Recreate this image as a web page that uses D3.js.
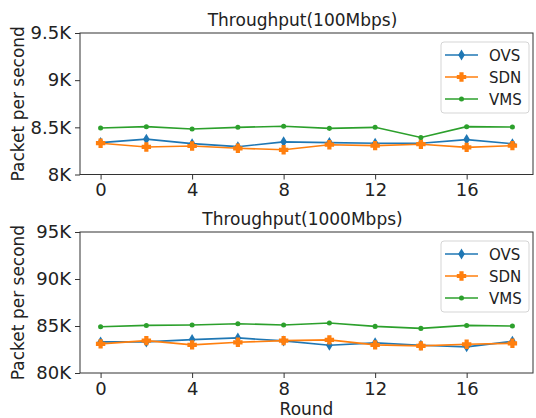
<!DOCTYPE html>
<html lang="en">
  <head>
    <meta charset="utf-8" />
    <title>Throughput</title>
    <script type="text/javascript" src="https://d3js.org/d3.v7.min.js"></script>
    <style>
      body { margin: 0; background: white; }
      text { font-family: "DejaVu Sans", sans-serif; fill: #222; }
    </style>
  </head>
  <body>
    <script type="text/javascript">
      const WIDTH = 536;
      const HEIGHT = 418;
      const LEFT = 80;
      const RIGHT = 533;

      // Data
      const rounds = [0, 2, 4, 6, 8, 10, 12, 14, 16, 18];
      const xTicks = [0, 4, 8, 12, 16];
      const seriesNames = ["OVS", "SDN", "VMS"];
      const seriesColors = ["#1f77b4", "#ff7f0e", "#2ca02c"];

      const ovs100 = [8338, 8375, 8327, 8295, 8346, 8338, 8332, 8332, 8370, 8327];
      const sdn100 = [8332, 8292, 8302, 8278, 8262, 8316, 8306, 8321, 8288, 8306];
      const vms100 = [8493, 8507, 8483, 8500, 8511, 8489, 8500, 8392, 8507, 8504];
      const yTicks100 = [8000, 8500, 9000, 9500];

      const ovs1000 = [83310, 83310, 83553, 83733, 83416, 82951, 83205, 82951, 82782, 83374];
      const sdn1000 = [83099, 83448, 82994, 83268, 83448, 83521, 82994, 82888, 83057, 83162];
      const vms1000 = [84926, 85063, 85106, 85243, 85106, 85317, 84958, 84746, 85063, 85000];
      const yTicks1000 = [80000, 85000, 90000, 95000];

      const svg = d3
        .select("body")
        .append("svg")
        .attr("width", WIDTH)
        .attr("height", HEIGHT);

      // marker shapes, matplotlib style: thin diamond, filled plus, dot
      function markerPath(kind) {
        if (kind === 0) return "M0,-5.5L3.3,0L0,5.5L-3.3,0Z";
        if (kind === 1) {
          const a = 2.1, b = 4.7;
          return `M${-a},${-b}H${a}V${-a}H${b}V${a}H${a}V${b}H${-a}V${a}H${-b}V${-a}H${-a}Z`;
        }
        return d3.symbol(d3.symbolCircle, 20)();
      }

      function drawPanel(opts) {
        const x = d3.scaleLinear().domain([-0.9, 18.9]).range([LEFT, RIGHT]);
        const y = d3.scaleLinear().domain(opts.yDomain).range([opts.bottom, opts.top]);
        const g = svg.append("g");

        // lines and markers
        opts.series.forEach((vals, si) => {
          const pts = rounds.map((r, i) => [r, vals[i]]);
          g.append("path")
            .datum(pts)
            .attr("fill", "none")
            .attr("stroke", seriesColors[si])
            .attr("stroke-width", 1.6)
            .attr("d", d3.line().x(d => x(d[0])).y(d => y(d[1])));
          g.selectAll(null)
            .data(pts)
            .enter()
            .append("path")
            .attr("d", markerPath(si))
            .attr("transform", d => `translate(${x(d[0])},${y(d[1])})`)
            .attr("fill", seriesColors[si]);
        });

        // axes
        const xAxis = g.append("g")
          .attr("transform", `translate(0,${opts.bottom})`)
          .call(d3.axisBottom(x).tickValues(xTicks).tickSize(5).tickPadding(4));
        const yAxis = g.append("g")
          .attr("transform", `translate(${LEFT},0)`)
          .call(d3.axisLeft(y).tickValues(opts.yTicks).tickSize(5).tickPadding(4)
            .tickFormat(d => d / 1000 + "K"));
        [xAxis, yAxis].forEach(a => {
          a.selectAll("text").style("font-size", "18px").attr("fill", "#222");
          a.selectAll("line").attr("stroke", "#333");
          a.select(".domain").attr("stroke", "none");
        });

        // frame
        g.append("rect")
          .attr("x", LEFT).attr("y", opts.top)
          .attr("width", RIGHT - LEFT).attr("height", opts.bottom - opts.top)
          .attr("fill", "none").attr("stroke", "#333").attr("stroke-width", 1);

        // title and y label
        g.append("text")
          .attr("x", (LEFT + RIGHT) / 2 - 4).attr("y", opts.top - 7)
          .attr("text-anchor", "middle").style("font-size", "17px")
          .text(opts.title);
        g.append("text")
          .attr("transform", `translate(24,${(opts.top + opts.bottom) / 2}) rotate(-90)`)
          .attr("text-anchor", "middle").style("font-size", "17px")
          .text("Packet per second");

        // legend
        const lg = g.append("g").attr("transform", `translate(441,${opts.top + 9})`);
        lg.append("rect")
          .attr("width", 88).attr("height", 71).attr("rx", 3)
          .attr("fill", "white").attr("fill-opacity", 0.8)
          .attr("stroke", "#d5d5d5");
        seriesNames.forEach((name, i) => {
          const yy = 13 + i * 22;
          lg.append("line")
            .attr("x1", 4).attr("x2", 37).attr("y1", yy).attr("y2", yy)
            .attr("stroke", seriesColors[i]).attr("stroke-width", 1.6);
          lg.append("path")
            .attr("d", markerPath(i))
            .attr("transform", `translate(20.5,${yy})`)
            .attr("fill", seriesColors[i]);
          lg.append("text")
            .attr("x", 48).attr("y", yy + 5.5)
            .style("font-size", "15px")
            .text(name);
        });
        return g;
      }

      drawPanel({
        top: 33, bottom: 174.5,
        yDomain: [8000, 9500], yTicks: yTicks100,
        series: [ovs100, sdn100, vms100],
        title: "Throughput(100Mbps)"
      });

      drawPanel({
        top: 232, bottom: 373,
        yDomain: [80000, 95000], yTicks: yTicks1000,
        series: [ovs1000, sdn1000, vms1000],
        title: "Throughput(1000Mbps)"
      });

      svg.append("text")
        .attr("x", (LEFT + RIGHT) / 2).attr("y", 415)
        .attr("text-anchor", "middle").style("font-size", "17px")
        .text("Round");
    </script>
  </body>
</html>
